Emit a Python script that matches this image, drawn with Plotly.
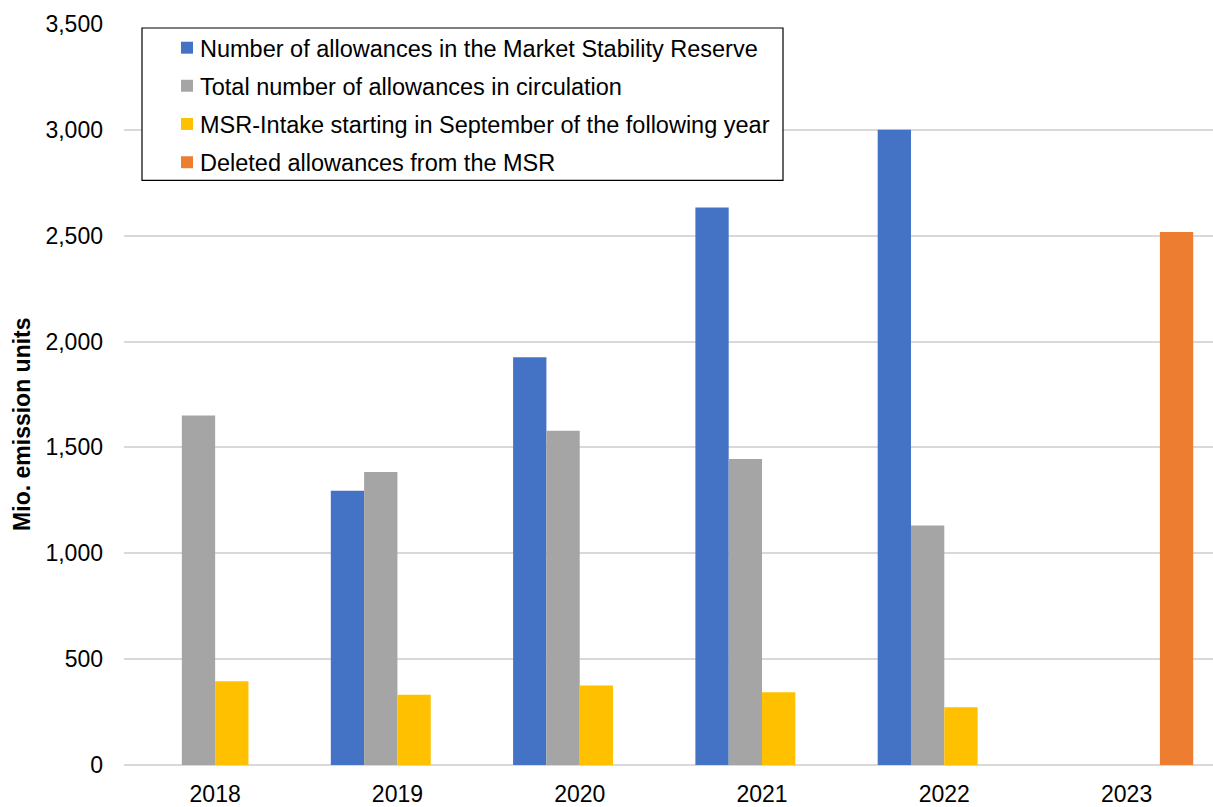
import plotly.graph_objects as go

# Years on the category axis
years = ["2018", "2019", "2020", "2021", "2022", "2023"]

# Mio. emission units per year (None = no bar)
msr_allowances = [None, 1295, 1926, 2633, 3000, None]
allowances_in_circulation = [1651, 1384, 1579, 1445, 1131, None]
msr_intake = [395, 332, 375, 344, 273, None]
deleted_allowances = [None, None, None, None, None, 2517]

series_names = [
    "Number of allowances in the Market Stability Reserve",
    "Total number of allowances in circulation",
    "MSR-Intake starting in September of the following year",
    "Deleted allowances from the MSR",
]
series_values = [msr_allowances, allowances_in_circulation, msr_intake, deleted_allowances]
series_colors = ["#4472C4", "#A5A5A5", "#FFC000", "#ED7D31"]

y_tick_values = [0, 500, 1000, 1500, 2000, 2500, 3000, 3500]
y_tick_labels = ["0", "500", "1,000", "1,500", "2,000", "2,500", "3,000", "3,500"]

FONT = "Liberation Sans, Arial, sans-serif"
W, H = 1213, 807
ML, MR, MT, MB = 124, 0, 24, 39
PW, PH = W - ML - MR, H - MT - MB


def px_x(px):
    """Pixel column -> paper x."""
    return (px - ML) / PW


def px_y(py):
    """Pixel row -> paper y."""
    return 1 - (py - MT) / PH


fig = go.Figure()
for name, vals, col in zip(series_names, series_values, series_colors):
    fig.add_trace(go.Bar(
        x=years, y=vals, name=name,
        marker=dict(color=col, line=dict(width=0)),
        showlegend=False,
    ))

# Boxed legend in the upper-left corner of the plot
shapes = [dict(
    type="rect", xref="paper", yref="paper",
    x0=px_x(142), x1=px_x(783), y0=px_y(181), y1=px_y(28),
    line=dict(color="#000000", width=1.2), fillcolor="white", layer="above",
)]
annotations = []
row_y = [47.8, 86.0, 124.4, 162.8]
for name, col, cy in zip(series_names, series_colors, row_y):
    shapes.append(dict(
        type="rect", xref="paper", yref="paper",
        x0=px_x(181), x1=px_x(193), y0=px_y(cy + 6), y1=px_y(cy - 6),
        line=dict(width=0), fillcolor=col, layer="above",
    ))
    annotations.append(dict(
        text=name, xref="paper", yref="paper",
        x=px_x(198), y=px_y(cy + 1), xanchor="left", yanchor="middle",
        showarrow=False, font=dict(family=FONT, size=23.5, color="#000000"),
    ))

annotations.append(dict(
    text="<b>Mio. emission units</b>", textangle=-90,
    xref="paper", yref="paper", x=px_x(22), y=px_y(426.5),
    xanchor="center", yanchor="middle", showarrow=False,
    font=dict(family=FONT, size=23, color="#000000"),
))

fig.update_layout(
    width=W, height=H,
    margin=dict(l=ML, r=MR, t=MT, b=MB),
    paper_bgcolor="white", plot_bgcolor="white",
    barmode="group", bargap=0.269, bargroupgap=0,
    font=dict(family=FONT, size=23, color="#000000"),
    showlegend=False,
    xaxis=dict(
        type="category", range=[-0.5, 5.474],
        showgrid=False, showline=False, zeroline=False,
        ticks="", ticklabelstandoff=13,
        tickfont=dict(family=FONT, size=23, color="#000000"),
    ),
    yaxis=dict(
        range=[0, 3500], tickvals=y_tick_values, ticktext=y_tick_labels,
        showgrid=True, gridcolor="#D9D9D9", gridwidth=1.5,
        zeroline=True, zerolinecolor="#D9D9D9", zerolinewidth=1.5,
        showline=False, ticks="", ticklabelstandoff=20,
        tickfont=dict(family=FONT, size=23, color="#000000"),
    ),
    shapes=shapes,
    annotations=annotations,
)

fig.write_html("out.html")
